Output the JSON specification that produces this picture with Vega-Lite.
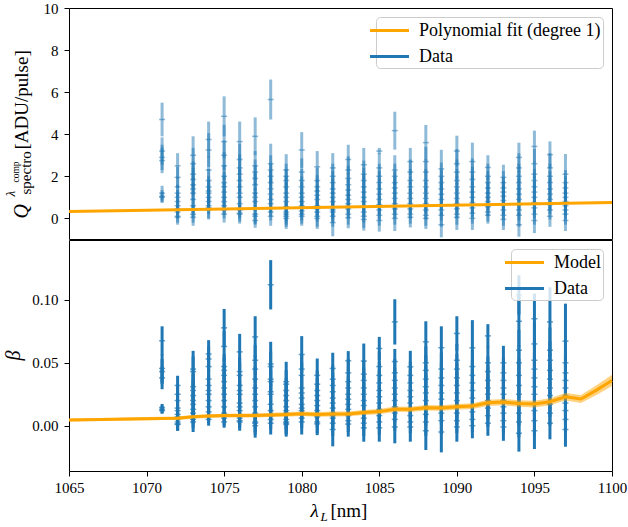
{
  "$schema": "https://vega.github.io/schema/vega-lite/v6.json",
  "padding": {"left": 2, "top": 0, "right": 0, "bottom": 0},
  "spacing": -2,
  "config": {
    "font": "Liberation Serif",
    "style": {
      "guide-label": {"font": "Liberation Serif"},
      "guide-title": {"font": "Liberation Serif"}
    },
    "view": {"stroke": "black", "strokeWidth": 1},
    "axis": {
      "domain": false, "grid": false, "tickColor": "black", "tickSize": 5, "tickWidth": 1,
      "labelFont": "Liberation Serif", "labelFontSize": 15, "labelColor": "black",
      "labelFlush": false, "labelOverlap": false,
      "titleFont": "Liberation Serif", "titleColor": "black", "titleFontWeight": "normal"
    },
    "legend": {
      "labelFont": "Liberation Serif", "labelFontSize": 18, "labelColor": "black", "labelLimit": 400,
      "fillColor": "rgba(255,255,255,0.8)", "strokeColor": "#cccccc", "cornerRadius": 4,
      "padding": 2, "symbolSize": 380, "symbolStrokeWidth": 3, "symbolOpacity": 1,
      "symbolType": "M-2,0H2", "rowPadding": 5, "labelOffset": 18
    }
  },
  "datasets": {
    "measurements": [
      {"lam":1071,"q":4.7,"q_err":0.8,"beta":0.0675,"beta_err":0.0115},
      {"lam":1071,"q":3.2,"q_err":0.65,"beta":0.0455,"beta_err":0.011},
      {"lam":1071,"q":2.9,"q_err":0.6,"beta":0.043,"beta_err":0.01},
      {"lam":1071,"q":2.75,"q_err":0.6,"beta":0.038,"beta_err":0.009},
      {"lam":1071,"q":1.2,"q_err":0.35,"beta":0.0145,"beta_err":0.0028},
      {"lam":1071,"q":1.05,"q_err":0.3,"beta":0.013,"beta_err":0.003},
      {"lam":1071,"q":1.0,"q_err":0.25,"beta":0.012,"beta_err":0.0025},

      {"lam":1072,"q":2.5,"q_err":0.6,"beta":0.032,"beta_err":0.0077},
      {"lam":1072,"q":1.95,"q_err":0.5,"beta":0.025,"beta_err":0.007},
      {"lam":1072,"q":1.5,"q_err":0.45,"beta":0.02,"beta_err":0.006},
      {"lam":1072,"q":1.2,"q_err":0.4,"beta":0.014,"beta_err":0.005},
      {"lam":1072,"q":1.0,"q_err":0.35,"beta":0.012,"beta_err":0.005},
      {"lam":1072,"q":0.8,"q_err":0.35,"beta":0.009,"beta_err":0.005},
      {"lam":1072,"q":0.6,"q_err":0.3,"beta":0.007,"beta_err":0.005},
      {"lam":1072,"q":0.45,"q_err":0.3,"beta":0.005,"beta_err":0.005},
      {"lam":1072,"q":0.3,"q_err":0.3,"beta":0.003,"beta_err":0.006},
      {"lam":1072,"q":0.1,"q_err":0.3,"beta":0.001,"beta_err":0.005},
      {"lam":1072,"q":0.05,"q_err":0.35,"beta":0.0015,"beta_err":0.0055},

      {"lam":1073,"q":3.0,"q_err":0.9,"beta":0.045,"beta_err":0.0145},
      {"lam":1073,"q":2.6,"q_err":0.75,"beta":0.043,"beta_err":0.012},
      {"lam":1073,"q":2.1,"q_err":0.6,"beta":0.031,"beta_err":0.01},
      {"lam":1073,"q":1.85,"q_err":0.55,"beta":0.028,"beta_err":0.009},
      {"lam":1073,"q":1.6,"q_err":0.5,"beta":0.024,"beta_err":0.008},
      {"lam":1073,"q":1.4,"q_err":0.5,"beta":0.02,"beta_err":0.007},
      {"lam":1073,"q":1.2,"q_err":0.45,"beta":0.017,"beta_err":0.007},
      {"lam":1073,"q":0.9,"q_err":0.4,"beta":0.013,"beta_err":0.006},
      {"lam":1073,"q":0.6,"q_err":0.35,"beta":0.01,"beta_err":0.006},
      {"lam":1073,"q":0.4,"q_err":0.35,"beta":0.007,"beta_err":0.006},
      {"lam":1073,"q":0.2,"q_err":0.4,"beta":0.005,"beta_err":0.007},
      {"lam":1073,"q":0.05,"q_err":0.4,"beta":0.003,"beta_err":0.008},

      {"lam":1074,"q":3.75,"q_err":0.85,"beta":0.057,"beta_err":0.011},
      {"lam":1074,"q":3.25,"q_err":0.8,"beta":0.053,"beta_err":0.01},
      {"lam":1074,"q":2.3,"q_err":0.65,"beta":0.047,"beta_err":0.009},
      {"lam":1074,"q":1.8,"q_err":0.55,"beta":0.037,"beta_err":0.008},
      {"lam":1074,"q":1.5,"q_err":0.5,"beta":0.032,"beta_err":0.008},
      {"lam":1074,"q":1.3,"q_err":0.5,"beta":0.028,"beta_err":0.007},
      {"lam":1074,"q":1.2,"q_err":0.45,"beta":0.025,"beta_err":0.007},
      {"lam":1074,"q":1.0,"q_err":0.45,"beta":0.02,"beta_err":0.006},
      {"lam":1074,"q":0.8,"q_err":0.4,"beta":0.015,"beta_err":0.006},
      {"lam":1074,"q":0.6,"q_err":0.4,"beta":0.011,"beta_err":0.006},
      {"lam":1074,"q":0.5,"q_err":0.5,"beta":0.008,"beta_err":0.006},
      {"lam":1074,"q":0.4,"q_err":0.45,"beta":0.005,"beta_err":0.005},

      {"lam":1075,"q":4.85,"q_err":0.95,"beta":0.0778,"beta_err":0.015},
      {"lam":1075,"q":3.65,"q_err":0.8,"beta":0.063,"beta_err":0.012},
      {"lam":1075,"q":3.0,"q_err":0.7,"beta":0.047,"beta_err":0.01},
      {"lam":1075,"q":2.5,"q_err":0.65,"beta":0.044,"beta_err":0.01},
      {"lam":1075,"q":2.0,"q_err":0.55,"beta":0.04,"beta_err":0.009},
      {"lam":1075,"q":1.7,"q_err":0.5,"beta":0.035,"beta_err":0.008},
      {"lam":1075,"q":1.5,"q_err":0.5,"beta":0.03,"beta_err":0.008},
      {"lam":1075,"q":1.25,"q_err":0.45,"beta":0.025,"beta_err":0.007},
      {"lam":1075,"q":1.0,"q_err":0.4,"beta":0.02,"beta_err":0.007},
      {"lam":1075,"q":0.8,"q_err":0.4,"beta":0.015,"beta_err":0.006},
      {"lam":1075,"q":0.6,"q_err":0.4,"beta":0.01,"beta_err":0.006},
      {"lam":1075,"q":0.4,"q_err":0.4,"beta":0.006,"beta_err":0.006},
      {"lam":1075,"q":0.2,"q_err":0.4,"beta":0.003,"beta_err":0.0046},

      {"lam":1076,"q":3.65,"q_err":0.95,"beta":0.0587,"beta_err":0.0143},
      {"lam":1076,"q":2.8,"q_err":0.75,"beta":0.043,"beta_err":0.011},
      {"lam":1076,"q":2.4,"q_err":0.65,"beta":0.04,"beta_err":0.01},
      {"lam":1076,"q":2.1,"q_err":0.6,"beta":0.032,"beta_err":0.009},
      {"lam":1076,"q":1.8,"q_err":0.55,"beta":0.028,"beta_err":0.008},
      {"lam":1076,"q":1.5,"q_err":0.5,"beta":0.025,"beta_err":0.008},
      {"lam":1076,"q":1.2,"q_err":0.45,"beta":0.018,"beta_err":0.007},
      {"lam":1076,"q":1.0,"q_err":0.45,"beta":0.015,"beta_err":0.007},
      {"lam":1076,"q":0.7,"q_err":0.4,"beta":0.012,"beta_err":0.006},
      {"lam":1076,"q":0.4,"q_err":0.4,"beta":0.006,"beta_err":0.006},
      {"lam":1076,"q":0.25,"q_err":0.4,"beta":0.004,"beta_err":0.006},
      {"lam":1076,"q":0.2,"q_err":0.45,"beta":0.003,"beta_err":0.007},

      {"lam":1077,"q":3.9,"q_err":0.9,"beta":0.0706,"beta_err":0.0164},
      {"lam":1077,"q":2.5,"q_err":0.7,"beta":0.052,"beta_err":0.012},
      {"lam":1077,"q":2.2,"q_err":0.6,"beta":0.045,"beta_err":0.011},
      {"lam":1077,"q":1.9,"q_err":0.6,"beta":0.037,"beta_err":0.01},
      {"lam":1077,"q":1.6,"q_err":0.55,"beta":0.03,"beta_err":0.009},
      {"lam":1077,"q":1.2,"q_err":0.5,"beta":0.025,"beta_err":0.008},
      {"lam":1077,"q":1.0,"q_err":0.45,"beta":0.02,"beta_err":0.008},
      {"lam":1077,"q":0.8,"q_err":0.45,"beta":0.015,"beta_err":0.007},
      {"lam":1077,"q":0.5,"q_err":0.4,"beta":0.01,"beta_err":0.007},
      {"lam":1077,"q":0.2,"q_err":0.45,"beta":0.003,"beta_err":0.008},
      {"lam":1077,"q":0.1,"q_err":0.4,"beta":0.002,"beta_err":0.009},
      {"lam":1077,"q":-0.1,"q_err":0.35,"beta":0.0,"beta_err":0.0095},

      {"lam":1078,"q":5.65,"q_err":0.95,"beta":0.112,"beta_err":0.0196},
      {"lam":1078,"q":2.6,"q_err":0.95,"beta":0.049,"beta_err":0.0177},
      {"lam":1078,"q":2.3,"q_err":0.7,"beta":0.047,"beta_err":0.012},
      {"lam":1078,"q":2.0,"q_err":0.6,"beta":0.037,"beta_err":0.01},
      {"lam":1078,"q":1.7,"q_err":0.55,"beta":0.035,"beta_err":0.009},
      {"lam":1078,"q":1.4,"q_err":0.5,"beta":0.027,"beta_err":0.008},
      {"lam":1078,"q":1.15,"q_err":0.45,"beta":0.025,"beta_err":0.008},
      {"lam":1078,"q":0.9,"q_err":0.45,"beta":0.017,"beta_err":0.007},
      {"lam":1078,"q":0.7,"q_err":0.4,"beta":0.012,"beta_err":0.007},
      {"lam":1078,"q":0.5,"q_err":0.4,"beta":0.008,"beta_err":0.007},
      {"lam":1078,"q":0.3,"q_err":0.4,"beta":0.005,"beta_err":0.008},
      {"lam":1078,"q":0.1,"q_err":0.45,"beta":0.002,"beta_err":0.009},

      {"lam":1079,"q":2.3,"q_err":0.75,"beta":0.035,"beta_err":0.0158},
      {"lam":1079,"q":2.0,"q_err":0.6,"beta":0.033,"beta_err":0.011},
      {"lam":1079,"q":1.8,"q_err":0.55,"beta":0.028,"beta_err":0.01},
      {"lam":1079,"q":1.5,"q_err":0.5,"beta":0.024,"beta_err":0.009},
      {"lam":1079,"q":1.2,"q_err":0.5,"beta":0.02,"beta_err":0.008},
      {"lam":1079,"q":1.0,"q_err":0.45,"beta":0.015,"beta_err":0.008},
      {"lam":1079,"q":0.8,"q_err":0.45,"beta":0.012,"beta_err":0.007},
      {"lam":1079,"q":0.55,"q_err":0.45,"beta":0.01,"beta_err":0.007},
      {"lam":1079,"q":0.3,"q_err":0.45,"beta":0.005,"beta_err":0.008},
      {"lam":1079,"q":0.2,"q_err":0.5,"beta":0.003,"beta_err":0.009},
      {"lam":1079,"q":0.1,"q_err":0.5,"beta":0.002,"beta_err":0.009},
      {"lam":1079,"q":0.0,"q_err":0.5,"beta":0.001,"beta_err":0.0097},

      {"lam":1080,"q":3.25,"q_err":0.85,"beta":0.0566,"beta_err":0.0146},
      {"lam":1080,"q":2.2,"q_err":0.65,"beta":0.045,"beta_err":0.011},
      {"lam":1080,"q":1.8,"q_err":0.55,"beta":0.04,"beta_err":0.01},
      {"lam":1080,"q":1.5,"q_err":0.5,"beta":0.03,"beta_err":0.009},
      {"lam":1080,"q":1.2,"q_err":0.5,"beta":0.026,"beta_err":0.008},
      {"lam":1080,"q":1.0,"q_err":0.45,"beta":0.022,"beta_err":0.008},
      {"lam":1080,"q":0.8,"q_err":0.45,"beta":0.017,"beta_err":0.007},
      {"lam":1080,"q":0.6,"q_err":0.4,"beta":0.014,"beta_err":0.007},
      {"lam":1080,"q":0.5,"q_err":0.4,"beta":0.012,"beta_err":0.007},
      {"lam":1080,"q":0.35,"q_err":0.45,"beta":0.009,"beta_err":0.007},
      {"lam":1080,"q":0.2,"q_err":0.45,"beta":0.006,"beta_err":0.008},
      {"lam":1080,"q":0.1,"q_err":0.45,"beta":0.003,"beta_err":0.01},

      {"lam":1081,"q":2.45,"q_err":0.75,"beta":0.04,"beta_err":0.0134},
      {"lam":1081,"q":1.8,"q_err":0.6,"beta":0.033,"beta_err":0.011},
      {"lam":1081,"q":1.5,"q_err":0.55,"beta":0.028,"beta_err":0.01},
      {"lam":1081,"q":1.3,"q_err":0.5,"beta":0.024,"beta_err":0.009},
      {"lam":1081,"q":1.1,"q_err":0.5,"beta":0.02,"beta_err":0.008},
      {"lam":1081,"q":0.9,"q_err":0.45,"beta":0.016,"beta_err":0.008},
      {"lam":1081,"q":0.6,"q_err":0.45,"beta":0.012,"beta_err":0.007},
      {"lam":1081,"q":0.45,"q_err":0.4,"beta":0.009,"beta_err":0.007},
      {"lam":1081,"q":0.3,"q_err":0.45,"beta":0.007,"beta_err":0.008},
      {"lam":1081,"q":0.1,"q_err":0.5,"beta":0.003,"beta_err":0.009},
      {"lam":1081,"q":0.0,"q_err":0.5,"beta":0.0015,"beta_err":0.009},

      {"lam":1082,"q":2.4,"q_err":0.7,"beta":0.0455,"beta_err":0.0125},
      {"lam":1082,"q":2.0,"q_err":0.6,"beta":0.037,"beta_err":0.011},
      {"lam":1082,"q":1.7,"q_err":0.55,"beta":0.032,"beta_err":0.01},
      {"lam":1082,"q":1.4,"q_err":0.5,"beta":0.027,"beta_err":0.009},
      {"lam":1082,"q":1.2,"q_err":0.5,"beta":0.022,"beta_err":0.009},
      {"lam":1082,"q":1.0,"q_err":0.45,"beta":0.018,"beta_err":0.008},
      {"lam":1082,"q":0.8,"q_err":0.45,"beta":0.014,"beta_err":0.008},
      {"lam":1082,"q":0.55,"q_err":0.45,"beta":0.01,"beta_err":0.008},
      {"lam":1082,"q":0.4,"q_err":0.45,"beta":0.008,"beta_err":0.008},
      {"lam":1082,"q":0.3,"q_err":0.5,"beta":0.006,"beta_err":0.009},
      {"lam":1082,"q":0.1,"q_err":0.5,"beta":0.002,"beta_err":0.01},
      {"lam":1082,"q":-0.2,"q_err":0.65,"beta":-0.003,"beta_err":0.0134},

      {"lam":1083,"q":2.8,"q_err":0.7,"beta":0.0516,"beta_err":0.0077},
      {"lam":1083,"q":2.3,"q_err":0.65,"beta":0.042,"beta_err":0.011},
      {"lam":1083,"q":1.9,"q_err":0.6,"beta":0.035,"beta_err":0.01},
      {"lam":1083,"q":1.6,"q_err":0.55,"beta":0.03,"beta_err":0.009},
      {"lam":1083,"q":1.35,"q_err":0.5,"beta":0.025,"beta_err":0.009},
      {"lam":1083,"q":1.1,"q_err":0.5,"beta":0.021,"beta_err":0.008},
      {"lam":1083,"q":0.9,"q_err":0.45,"beta":0.017,"beta_err":0.008},
      {"lam":1083,"q":0.7,"q_err":0.45,"beta":0.013,"beta_err":0.008},
      {"lam":1083,"q":0.45,"q_err":0.45,"beta":0.008,"beta_err":0.008},
      {"lam":1083,"q":0.2,"q_err":0.5,"beta":0.004,"beta_err":0.009},
      {"lam":1083,"q":0.03,"q_err":0.5,"beta":0.0013,"beta_err":0.01},

      {"lam":1084,"q":2.55,"q_err":0.8,"beta":0.0514,"beta_err":0.0139},
      {"lam":1084,"q":2.1,"q_err":0.65,"beta":0.041,"beta_err":0.011},
      {"lam":1084,"q":1.8,"q_err":0.6,"beta":0.036,"beta_err":0.01},
      {"lam":1084,"q":1.5,"q_err":0.55,"beta":0.03,"beta_err":0.01},
      {"lam":1084,"q":1.25,"q_err":0.5,"beta":0.025,"beta_err":0.009},
      {"lam":1084,"q":1.0,"q_err":0.5,"beta":0.02,"beta_err":0.009},
      {"lam":1084,"q":0.8,"q_err":0.45,"beta":0.016,"beta_err":0.008},
      {"lam":1084,"q":0.55,"q_err":0.45,"beta":0.011,"beta_err":0.008},
      {"lam":1084,"q":0.3,"q_err":0.5,"beta":0.006,"beta_err":0.009},
      {"lam":1084,"q":0.1,"q_err":0.55,"beta":0.002,"beta_err":0.01},
      {"lam":1084,"q":-0.05,"q_err":0.53,"beta":-0.0017,"beta_err":0.011},

      {"lam":1085,"q":3.2,"q_err":0.15,"beta":0.0614,"beta_err":0.0092},
      {"lam":1085,"q":2.4,"q_err":0.7,"beta":0.047,"beta_err":0.012},
      {"lam":1085,"q":2.0,"q_err":0.6,"beta":0.04,"beta_err":0.011},
      {"lam":1085,"q":1.7,"q_err":0.55,"beta":0.034,"beta_err":0.01},
      {"lam":1085,"q":1.4,"q_err":0.5,"beta":0.028,"beta_err":0.009},
      {"lam":1085,"q":1.15,"q_err":0.5,"beta":0.023,"beta_err":0.009},
      {"lam":1085,"q":0.9,"q_err":0.5,"beta":0.018,"beta_err":0.008},
      {"lam":1085,"q":0.65,"q_err":0.45,"beta":0.013,"beta_err":0.008},
      {"lam":1085,"q":0.4,"q_err":0.45,"beta":0.008,"beta_err":0.008},
      {"lam":1085,"q":0.15,"q_err":0.5,"beta":0.003,"beta_err":0.01},
      {"lam":1085,"q":-0.1,"q_err":0.53,"beta":-0.0017,"beta_err":0.011},

      {"lam":1086,"q":4.17,"q_err":0.9,"beta":0.0825,"beta_err":0.018},
      {"lam":1086,"q":2.3,"q_err":0.7,"beta":0.051,"beta_err":0.01},
      {"lam":1086,"q":2.0,"q_err":0.6,"beta":0.042,"beta_err":0.011},
      {"lam":1086,"q":1.7,"q_err":0.55,"beta":0.036,"beta_err":0.01},
      {"lam":1086,"q":1.45,"q_err":0.5,"beta":0.03,"beta_err":0.01},
      {"lam":1086,"q":1.2,"q_err":0.5,"beta":0.025,"beta_err":0.009},
      {"lam":1086,"q":0.95,"q_err":0.5,"beta":0.02,"beta_err":0.009},
      {"lam":1086,"q":0.7,"q_err":0.45,"beta":0.015,"beta_err":0.008},
      {"lam":1086,"q":0.45,"q_err":0.45,"beta":0.01,"beta_err":0.008},
      {"lam":1086,"q":0.2,"q_err":0.5,"beta":0.005,"beta_err":0.009},
      {"lam":1086,"q":0.0,"q_err":0.6,"beta":-0.001,"beta_err":0.013},

      {"lam":1087,"q":2.7,"q_err":0.65,"beta":0.0468,"beta_err":0.0127},
      {"lam":1087,"q":2.2,"q_err":0.6,"beta":0.04,"beta_err":0.011},
      {"lam":1087,"q":1.8,"q_err":0.55,"beta":0.034,"beta_err":0.01},
      {"lam":1087,"q":1.5,"q_err":0.5,"beta":0.028,"beta_err":0.01},
      {"lam":1087,"q":1.2,"q_err":0.5,"beta":0.023,"beta_err":0.009},
      {"lam":1087,"q":0.95,"q_err":0.45,"beta":0.018,"beta_err":0.009},
      {"lam":1087,"q":0.7,"q_err":0.45,"beta":0.013,"beta_err":0.008},
      {"lam":1087,"q":0.45,"q_err":0.45,"beta":0.008,"beta_err":0.008},
      {"lam":1087,"q":0.2,"q_err":0.45,"beta":0.003,"beta_err":0.009},
      {"lam":1087,"q":0.05,"q_err":0.48,"beta":-0.001,"beta_err":0.0117},

      {"lam":1088,"q":3.6,"q_err":0.84,"beta":0.0667,"beta_err":0.0163},
      {"lam":1088,"q":2.7,"q_err":0.7,"beta":0.05,"beta_err":0.013},
      {"lam":1088,"q":2.2,"q_err":0.6,"beta":0.044,"beta_err":0.012},
      {"lam":1088,"q":1.8,"q_err":0.55,"beta":0.037,"beta_err":0.011},
      {"lam":1088,"q":1.5,"q_err":0.5,"beta":0.031,"beta_err":0.01},
      {"lam":1088,"q":1.2,"q_err":0.5,"beta":0.026,"beta_err":0.01},
      {"lam":1088,"q":0.95,"q_err":0.5,"beta":0.02,"beta_err":0.009},
      {"lam":1088,"q":0.7,"q_err":0.45,"beta":0.015,"beta_err":0.009},
      {"lam":1088,"q":0.4,"q_err":0.45,"beta":0.009,"beta_err":0.009},
      {"lam":1088,"q":0.15,"q_err":0.5,"beta":0.003,"beta_err":0.011},
      {"lam":1088,"q":0.0,"q_err":0.5,"beta":-0.004,"beta_err":0.0153},

      {"lam":1089,"q":2.35,"q_err":0.91,"beta":0.062,"beta_err":0.017},
      {"lam":1089,"q":2.0,"q_err":0.65,"beta":0.045,"beta_err":0.013},
      {"lam":1089,"q":1.7,"q_err":0.6,"beta":0.038,"beta_err":0.012},
      {"lam":1089,"q":1.4,"q_err":0.55,"beta":0.032,"beta_err":0.011},
      {"lam":1089,"q":1.15,"q_err":0.5,"beta":0.026,"beta_err":0.01},
      {"lam":1089,"q":0.9,"q_err":0.5,"beta":0.021,"beta_err":0.01},
      {"lam":1089,"q":0.65,"q_err":0.5,"beta":0.015,"beta_err":0.009},
      {"lam":1089,"q":0.4,"q_err":0.5,"beta":0.01,"beta_err":0.009},
      {"lam":1089,"q":0.15,"q_err":0.55,"beta":0.004,"beta_err":0.011},
      {"lam":1089,"q":-0.3,"q_err":0.6,"beta":-0.005,"beta_err":0.0162},

      {"lam":1090,"q":3.2,"q_err":0.73,"beta":0.0733,"beta_err":0.0137},
      {"lam":1090,"q":2.6,"q_err":0.7,"beta":0.052,"beta_err":0.013},
      {"lam":1090,"q":2.2,"q_err":0.6,"beta":0.045,"beta_err":0.012},
      {"lam":1090,"q":1.8,"q_err":0.55,"beta":0.038,"beta_err":0.011},
      {"lam":1090,"q":1.5,"q_err":0.5,"beta":0.032,"beta_err":0.01},
      {"lam":1090,"q":1.2,"q_err":0.5,"beta":0.026,"beta_err":0.01},
      {"lam":1090,"q":0.95,"q_err":0.5,"beta":0.02,"beta_err":0.009},
      {"lam":1090,"q":0.7,"q_err":0.45,"beta":0.015,"beta_err":0.009},
      {"lam":1090,"q":0.45,"q_err":0.45,"beta":0.01,"beta_err":0.009},
      {"lam":1090,"q":0.2,"q_err":0.5,"beta":0.004,"beta_err":0.01},
      {"lam":1090,"q":0.05,"q_err":0.6,"beta":-0.001,"beta_err":0.0117},

      {"lam":1091,"q":2.7,"q_err":0.9,"beta":0.0619,"beta_err":0.022},
      {"lam":1091,"q":2.2,"q_err":0.65,"beta":0.047,"beta_err":0.013},
      {"lam":1091,"q":1.85,"q_err":0.6,"beta":0.04,"beta_err":0.012},
      {"lam":1091,"q":1.5,"q_err":0.55,"beta":0.034,"beta_err":0.011},
      {"lam":1091,"q":1.25,"q_err":0.5,"beta":0.028,"beta_err":0.01},
      {"lam":1091,"q":1.0,"q_err":0.5,"beta":0.022,"beta_err":0.01},
      {"lam":1091,"q":0.75,"q_err":0.5,"beta":0.016,"beta_err":0.009},
      {"lam":1091,"q":0.5,"q_err":0.45,"beta":0.011,"beta_err":0.009},
      {"lam":1091,"q":0.25,"q_err":0.5,"beta":0.005,"beta_err":0.01},
      {"lam":1091,"q":0.0,"q_err":0.55,"beta":0.0,"beta_err":0.01},

      {"lam":1092,"q":2.42,"q_err":0.58,"beta":0.0714,"beta_err":0.0093},
      {"lam":1092,"q":2.0,"q_err":0.6,"beta":0.05,"beta_err":0.013},
      {"lam":1092,"q":1.7,"q_err":0.55,"beta":0.043,"beta_err":0.012},
      {"lam":1092,"q":1.45,"q_err":0.5,"beta":0.036,"beta_err":0.011},
      {"lam":1092,"q":1.2,"q_err":0.5,"beta":0.03,"beta_err":0.01},
      {"lam":1092,"q":1.0,"q_err":0.45,"beta":0.025,"beta_err":0.01},
      {"lam":1092,"q":0.8,"q_err":0.45,"beta":0.02,"beta_err":0.009},
      {"lam":1092,"q":0.55,"q_err":0.45,"beta":0.014,"beta_err":0.009},
      {"lam":1092,"q":0.3,"q_err":0.45,"beta":0.008,"beta_err":0.009},
      {"lam":1092,"q":0.15,"q_err":0.4,"beta":0.002,"beta_err":0.01},

      {"lam":1093,"q":1.95,"q_err":0.6,"beta":0.05,"beta_err":0.0135},
      {"lam":1093,"q":1.7,"q_err":0.55,"beta":0.042,"beta_err":0.012},
      {"lam":1093,"q":1.45,"q_err":0.5,"beta":0.036,"beta_err":0.011},
      {"lam":1093,"q":1.25,"q_err":0.5,"beta":0.03,"beta_err":0.01},
      {"lam":1093,"q":1.05,"q_err":0.45,"beta":0.025,"beta_err":0.01},
      {"lam":1093,"q":0.85,"q_err":0.45,"beta":0.02,"beta_err":0.009},
      {"lam":1093,"q":0.65,"q_err":0.45,"beta":0.015,"beta_err":0.009},
      {"lam":1093,"q":0.4,"q_err":0.45,"beta":0.01,"beta_err":0.009},
      {"lam":1093,"q":0.15,"q_err":0.5,"beta":0.004,"beta_err":0.01},
      {"lam":1093,"q":-0.05,"q_err":0.5,"beta":-0.001,"beta_err":0.011},

      {"lam":1094,"q":2.9,"q_err":0.7,"beta":0.104,"beta_err":0.0156},
      {"lam":1094,"q":2.4,"q_err":0.7,"beta":0.083,"beta_err":0.02},
      {"lam":1094,"q":2.0,"q_err":0.6,"beta":0.06,"beta_err":0.016},
      {"lam":1094,"q":1.7,"q_err":0.55,"beta":0.05,"beta_err":0.014},
      {"lam":1094,"q":1.4,"q_err":0.5,"beta":0.04,"beta_err":0.013},
      {"lam":1094,"q":1.15,"q_err":0.5,"beta":0.032,"beta_err":0.012},
      {"lam":1094,"q":0.9,"q_err":0.5,"beta":0.025,"beta_err":0.011},
      {"lam":1094,"q":0.65,"q_err":0.5,"beta":0.018,"beta_err":0.01},
      {"lam":1094,"q":0.4,"q_err":0.5,"beta":0.01,"beta_err":0.01},
      {"lam":1094,"q":0.15,"q_err":0.55,"beta":0.003,"beta_err":0.012},
      {"lam":1094,"q":-0.3,"q_err":0.57,"beta":-0.006,"beta_err":0.0146},

      {"lam":1095,"q":3.42,"q_err":0.75,"beta":0.085,"beta_err":0.02},
      {"lam":1095,"q":2.6,"q_err":0.7,"beta":0.065,"beta_err":0.017},
      {"lam":1095,"q":2.1,"q_err":0.6,"beta":0.052,"beta_err":0.015},
      {"lam":1095,"q":1.8,"q_err":0.55,"beta":0.045,"beta_err":0.013},
      {"lam":1095,"q":1.5,"q_err":0.5,"beta":0.038,"beta_err":0.012},
      {"lam":1095,"q":1.25,"q_err":0.5,"beta":0.031,"beta_err":0.011},
      {"lam":1095,"q":1.0,"q_err":0.5,"beta":0.025,"beta_err":0.011},
      {"lam":1095,"q":0.75,"q_err":0.5,"beta":0.018,"beta_err":0.01},
      {"lam":1095,"q":0.5,"q_err":0.5,"beta":0.012,"beta_err":0.01},
      {"lam":1095,"q":0.2,"q_err":0.5,"beta":0.004,"beta_err":0.012},
      {"lam":1095,"q":-0.1,"q_err":0.6,"beta":-0.004,"beta_err":0.0145},

      {"lam":1096,"q":3.03,"q_err":0.63,"beta":0.0825,"beta_err":0.0275},
      {"lam":1096,"q":2.4,"q_err":0.7,"beta":0.06,"beta_err":0.018},
      {"lam":1096,"q":2.0,"q_err":0.6,"beta":0.052,"beta_err":0.015},
      {"lam":1096,"q":1.7,"q_err":0.55,"beta":0.044,"beta_err":0.013},
      {"lam":1096,"q":1.4,"q_err":0.5,"beta":0.037,"beta_err":0.012},
      {"lam":1096,"q":1.15,"q_err":0.5,"beta":0.03,"beta_err":0.011},
      {"lam":1096,"q":0.9,"q_err":0.5,"beta":0.024,"beta_err":0.011},
      {"lam":1096,"q":0.65,"q_err":0.45,"beta":0.017,"beta_err":0.01},
      {"lam":1096,"q":0.4,"q_err":0.45,"beta":0.01,"beta_err":0.01},
      {"lam":1096,"q":0.1,"q_err":0.5,"beta":0.002,"beta_err":0.0128},

      {"lam":1097,"q":2.1,"q_err":0.96,"beta":0.0672,"beta_err":0.0298},
      {"lam":1097,"q":1.7,"q_err":0.6,"beta":0.05,"beta_err":0.016},
      {"lam":1097,"q":1.45,"q_err":0.55,"beta":0.042,"beta_err":0.014},
      {"lam":1097,"q":1.2,"q_err":0.5,"beta":0.036,"beta_err":0.013},
      {"lam":1097,"q":1.0,"q_err":0.5,"beta":0.03,"beta_err":0.012},
      {"lam":1097,"q":0.8,"q_err":0.45,"beta":0.024,"beta_err":0.011},
      {"lam":1097,"q":0.6,"q_err":0.45,"beta":0.018,"beta_err":0.01},
      {"lam":1097,"q":0.4,"q_err":0.45,"beta":0.012,"beta_err":0.01},
      {"lam":1097,"q":0.2,"q_err":0.5,"beta":0.005,"beta_err":0.011},
      {"lam":1097,"q":-0.1,"q_err":0.5,"beta":-0.003,"beta_err":0.0137}
    ],
    "linear_fit": [
      {"lam": 1065, "fit": 0.33},
      {"lam": 1100, "fit": 0.75}
    ],
    "model": [
      {"lam":1065,"model":0.0045,"model_err":0.0012},
      {"lam":1066,"model":0.0047,"model_err":0.0012},
      {"lam":1067,"model":0.0050,"model_err":0.0012},
      {"lam":1068,"model":0.0052,"model_err":0.0012},
      {"lam":1069,"model":0.0054,"model_err":0.0013},
      {"lam":1070,"model":0.0056,"model_err":0.0013},
      {"lam":1071,"model":0.0058,"model_err":0.0013},
      {"lam":1072,"model":0.0059,"model_err":0.0014},
      {"lam":1073,"model":0.0072,"model_err":0.0014},
      {"lam":1074,"model":0.0077,"model_err":0.0015},
      {"lam":1075,"model":0.0081,"model_err":0.0015},
      {"lam":1076,"model":0.0082,"model_err":0.0016},
      {"lam":1077,"model":0.0082,"model_err":0.0016},
      {"lam":1078,"model":0.0086,"model_err":0.0017},
      {"lam":1079,"model":0.0089,"model_err":0.0017},
      {"lam":1080,"model":0.0095,"model_err":0.0018},
      {"lam":1081,"model":0.0090,"model_err":0.0018},
      {"lam":1082,"model":0.0093,"model_err":0.0019},
      {"lam":1083,"model":0.0094,"model_err":0.0019},
      {"lam":1084,"model":0.0105,"model_err":0.0020},
      {"lam":1085,"model":0.0112,"model_err":0.0020},
      {"lam":1086,"model":0.0131,"model_err":0.0021},
      {"lam":1087,"model":0.0130,"model_err":0.0021},
      {"lam":1088,"model":0.0142,"model_err":0.0022},
      {"lam":1089,"model":0.0140,"model_err":0.0022},
      {"lam":1090,"model":0.0150,"model_err":0.0023},
      {"lam":1091,"model":0.0156,"model_err":0.0023},
      {"lam":1092,"model":0.0182,"model_err":0.0025},
      {"lam":1093,"model":0.0188,"model_err":0.0025},
      {"lam":1094,"model":0.0176,"model_err":0.0026},
      {"lam":1095,"model":0.0172,"model_err":0.0027},
      {"lam":1096,"model":0.0190,"model_err":0.0028},
      {"lam":1097,"model":0.0230,"model_err":0.0030},
      {"lam":1098,"model":0.0212,"model_err":0.0032},
      {"lam":1099,"model":0.0283,"model_err":0.0038},
      {"lam":1100,"model":0.0360,"model_err":0.0045}
    ]
  },
  "vconcat": [
    {
      "width": 543,
      "height": 231,
      "layer": [
        {
          "data": {"name": "measurements"},
          "mark": {"type": "errorbar", "ticks": false, "thickness": 3, "opacity": 0.5},
          "encoding": {
            "x": {
              "field": "lam", "type": "quantitative",
              "scale": {"domain": [1065, 1100], "nice": false, "zero": false},
              "axis": {"orient": "top", "ticks": false, "labels": false, "title": "λ",
                       "titleFont": "Liberation Serif", "titleFontStyle": "italic", "titleFontSize": 13, "titleAngle": -90,
                       "titleAlign": "left", "titleBaseline": "alphabetic", "titleX": -54.5, "titleY": 188}
            },
            "y": {
              "field": "q", "type": "quantitative",
              "scale": {"domain": [-0.98, 10], "nice": false, "zero": false},
              "axis": {"orient": "left", "values": [0, 2, 4, 6, 8, 10], "format": "d", "labelPadding": 6,
                       "labelFont": "Liberation Serif", "labelFontSize": 15,
                       "title": "[ADU/pulse]", "titleFont": "Liberation Serif", "titleFontSize": 19, "titleAngle": -90,
                       "titleAlign": "left", "titleBaseline": "alphabetic", "titleX": -42, "titleY": 141}
            },
            "yError": {"field": "q_err"},
            "color": {
              "datum": "Data",
              "scale": {"domain": ["Polynomial fit (degree 1)", "Data"], "range": ["orange", "#1f77b4"]},
              "legend": {"title": null, "orient": "top-right", "offset": 9, "labelFont": "Liberation Serif", "labelFontSize": 18}
            }
          }
        },
        {
          "data": {"name": "measurements"},
          "mark": {"type": "tick", "orient": "horizontal", "size": 6, "thickness": 1.5, "opacity": 0.5},
          "encoding": {
            "x": {
              "field": "lam", "type": "quantitative",
              "scale": {"domain": [1065, 1100], "nice": false, "zero": false},
              "axis": {"orient": "top", "ticks": false, "labels": false, "title": "comp",
                       "titleFont": "Liberation Serif", "titleFontSize": 9.5, "titleAngle": -90,
                       "titleAlign": "left", "titleBaseline": "alphabetic", "titleX": -51, "titleY": 174}
            },
            "y": {
              "field": "q", "type": "quantitative",
              "scale": {"domain": [-0.98, 10], "nice": false, "zero": false},
              "axis": {"orient": "left", "ticks": false, "labels": false, "title": "Q",
                       "titleFont": "Liberation Serif", "titleFontStyle": "italic", "titleFontSize": 20, "titleAngle": -90,
                       "titleAlign": "left", "titleBaseline": "alphabetic", "titleX": -42, "titleY": 210}
            },
            "color": {"datum": "Data"}
          }
        },
        {
          "data": {"name": "linear_fit"},
          "mark": {"type": "line", "strokeWidth": 3},
          "encoding": {
            "x": {"field": "lam", "type": "quantitative", "scale": {"domain": [1065, 1100], "nice": false, "zero": false}, "axis": null},
            "y": {
              "field": "fit", "type": "quantitative",
              "scale": {"domain": [-0.98, 10], "nice": false, "zero": false},
              "axis": {"orient": "left", "ticks": false, "labels": false, "title": "spectro",
                       "titleFont": "Liberation Serif", "titleFontSize": 15, "titleAngle": -90,
                       "titleAlign": "left", "titleBaseline": "alphabetic", "titleX": -39, "titleY": 186}
            },
            "color": {"datum": "Polynomial fit (degree 1)"}
          }
        }
      ],
      "resolve": {"axis": {"x": "independent", "y": "independent"}}
    },
    {
      "width": 543,
      "height": 231,
      "layer": [
        {
          "data": {"name": "measurements"},
          "mark": {"type": "errorbar", "ticks": false, "thickness": 3},
          "encoding": {
            "x": {
              "field": "lam", "type": "quantitative",
              "scale": {"domain": [1065, 1100], "nice": false, "zero": false},
              "axis": {"orient": "bottom", "values": [1065, 1070, 1075, 1080, 1085, 1090, 1095, 1100], "format": "d",
                       "labelPadding": 4, "labelFont": "Liberation Serif", "labelFontSize": 15,
                       "title": "[nm]", "titleFont": "Liberation Serif", "titleFontSize": 19, "titleAngle": 0,
                       "titleAlign": "left", "titleBaseline": "alphabetic", "titleX": 261, "titleY": 45}
            },
            "y": {
              "field": "beta", "type": "quantitative",
              "scale": {"domain": [-0.036, 0.1476], "nice": false, "zero": false},
              "axis": {"orient": "left", "values": [0, 0.05, 0.1], "format": ".2f", "labelPadding": 6,
                       "labelFont": "Liberation Serif", "labelFontSize": 15,
                       "title": "β", "titleFont": "Liberation Serif", "titleFontStyle": "italic", "titleFontSize": 20, "titleAngle": -90,
                       "titleAlign": "center", "titleBaseline": "alphabetic", "titleX": -50, "titleY": 115}
            },
            "yError": {"field": "beta_err"},
            "color": {
              "datum": "Data",
              "scale": {"domain": ["Model", "Data"], "range": ["orange", "#1f77b4"]},
              "legend": {"title": null, "orient": "top-right", "offset": 9, "labelFont": "Liberation Serif", "labelFontSize": 18}
            }
          }
        },
        {
          "data": {"name": "measurements"},
          "mark": {"type": "tick", "orient": "horizontal", "size": 6, "thickness": 1.5},
          "encoding": {
            "x": {
              "field": "lam", "type": "quantitative",
              "scale": {"domain": [1065, 1100], "nice": false, "zero": false},
              "axis": {"orient": "bottom", "ticks": false, "labels": false, "title": "λ",
                       "titleFont": "Liberation Serif", "titleFontStyle": "italic", "titleFontSize": 19, "titleAngle": 0,
                       "titleAlign": "left", "titleBaseline": "alphabetic", "titleX": 241, "titleY": 45}
            },
            "y": {"field": "beta", "type": "quantitative", "scale": {"domain": [-0.036, 0.1476], "nice": false, "zero": false}, "axis": null},
            "color": {"datum": "Data"}
          }
        },
        {
          "data": {"name": "model"},
          "mark": {"type": "errorband", "opacity": 0.5},
          "encoding": {
            "x": {
              "field": "lam", "type": "quantitative",
              "scale": {"domain": [1065, 1100], "nice": false, "zero": false},
              "axis": {"orient": "bottom", "ticks": false, "labels": false, "title": "L",
                       "titleFont": "Liberation Serif", "titleFontStyle": "italic", "titleFontSize": 13, "titleAngle": 0,
                       "titleAlign": "left", "titleBaseline": "alphabetic", "titleX": 251, "titleY": 49}
            },
            "y": {"field": "model", "type": "quantitative", "scale": {"domain": [-0.036, 0.1476], "nice": false, "zero": false}, "axis": null},
            "yError": {"field": "model_err"},
            "color": {"datum": "Model"}
          }
        },
        {
          "data": {"name": "model"},
          "mark": {"type": "line", "strokeWidth": 3},
          "encoding": {
            "x": {"field": "lam", "type": "quantitative", "scale": {"domain": [1065, 1100], "nice": false, "zero": false}, "axis": null},
            "y": {"field": "model", "type": "quantitative", "scale": {"domain": [-0.036, 0.1476], "nice": false, "zero": false}, "axis": null},
            "color": {"datum": "Model"}
          }
        }
      ],
      "resolve": {"axis": {"x": "independent", "y": "independent"}}
    }
  ],
  "resolve": {"scale": {"color": "independent"}, "legend": {"color": "independent"}}
}
